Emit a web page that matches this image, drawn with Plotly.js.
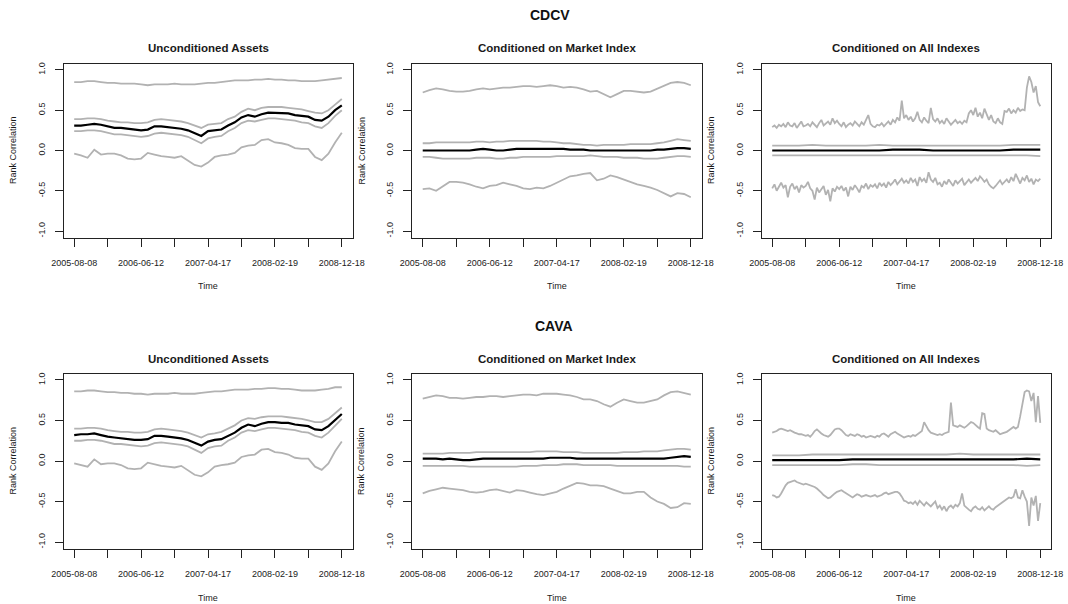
<!DOCTYPE html>
<html>
<head>
<meta charset="utf-8">
<script src="https://cdn.plot.ly/plotly-3.0.1.min.js"></script>
<style>
  html, body { margin: 0; padding: 0; background: #ffffff; }
  #chart { width: 1068px; height: 604px; }
</style>
</head>
<body>
<div id="chart"></div>
<script>
// Axis labels
const timeTickLabels = ['2005-08-08', '', '2006-06-12', '', '2007-04-17', '', '2008-02-19', '', '2008-12-18'];
const corrTickValues = [-1, -0.5, 0, 0.5, 1];
const corrTickLabels = ['-1.0', '-0.5', '0.0', '0.5', '1.0'];

const groupTitles = ['CDCV', 'CAVA'];
const panelTitles = ['Unconditioned Assets', 'Conditioned on Market Index', 'Conditioned on All Indexes'];

// CDCV - unconditioned assets
const cdcvUncMax  = [0.85,0.85,0.86,0.86,0.85,0.84,0.84,0.83,0.83,0.83,0.82,0.81,0.82,0.82,0.82,0.83,0.82,0.82,0.82,0.83,0.84,0.84,0.85,0.86,0.87,0.87,0.87,0.88,0.88,0.89,0.88,0.88,0.87,0.87,0.86,0.86,0.86,0.87,0.88,0.89,0.90];
const cdcvUncUp   = [0.39,0.39,0.40,0.40,0.39,0.37,0.36,0.35,0.35,0.34,0.34,0.35,0.38,0.39,0.38,0.37,0.36,0.34,0.31,0.28,0.32,0.33,0.34,0.39,0.42,0.48,0.52,0.50,0.53,0.54,0.54,0.54,0.53,0.52,0.51,0.49,0.47,0.46,0.50,0.57,0.64];
const cdcvUncMean = [0.31,0.31,0.32,0.33,0.32,0.30,0.28,0.28,0.27,0.26,0.25,0.26,0.30,0.30,0.29,0.28,0.27,0.25,0.21,0.18,0.24,0.25,0.26,0.31,0.35,0.41,0.44,0.42,0.45,0.47,0.465,0.46,0.46,0.44,0.43,0.42,0.38,0.37,0.42,0.50,0.56];
const cdcvUncLo   = [0.24,0.24,0.25,0.25,0.24,0.22,0.20,0.20,0.19,0.18,0.17,0.18,0.21,0.22,0.21,0.20,0.19,0.17,0.13,0.09,0.15,0.17,0.18,0.24,0.28,0.34,0.37,0.36,0.38,0.40,0.40,0.39,0.38,0.37,0.35,0.34,0.30,0.28,0.34,0.43,0.50];
const cdcvUncMin  = [-0.04,-0.06,-0.09,0.01,-0.05,-0.04,-0.04,-0.06,-0.10,-0.11,-0.10,-0.03,-0.05,-0.07,-0.08,-0.09,-0.07,-0.12,-0.18,-0.20,-0.15,-0.08,-0.06,-0.05,-0.03,0.04,0.06,0.07,0.13,0.14,0.10,0.09,0.07,0.03,0.02,0.02,-0.08,-0.12,-0.04,0.10,0.22];

// CDCV - conditioned on market index
const cdcvMktMax  = [0.72,0.75,0.77,0.76,0.74,0.73,0.73,0.74,0.76,0.77,0.76,0.77,0.78,0.78,0.79,0.80,0.80,0.79,0.80,0.81,0.80,0.78,0.79,0.78,0.76,0.73,0.74,0.70,0.66,0.70,0.74,0.74,0.73,0.72,0.73,0.77,0.80,0.84,0.85,0.84,0.81];
const cdcvMktUp   = [0.09,0.09,0.10,0.10,0.10,0.10,0.10,0.10,0.11,0.11,0.10,0.11,0.11,0.12,0.12,0.12,0.12,0.12,0.11,0.11,0.10,0.09,0.09,0.08,0.07,0.07,0.06,0.07,0.07,0.07,0.07,0.08,0.08,0.08,0.08,0.09,0.10,0.12,0.14,0.13,0.12];
const cdcvMktMean = [0.00,0.00,0.00,0.00,0.00,0.00,0.00,0.00,0.01,0.02,0.01,0.00,0.00,0.01,0.02,0.02,0.02,0.02,0.02,0.02,0.02,0.02,0.01,0.01,0.01,0.00,0.00,0.00,0.00,0.00,0.00,0.00,0.00,0.00,0.00,0.01,0.01,0.02,0.03,0.03,0.02];
const cdcvMktLo   = [-0.08,-0.08,-0.09,-0.10,-0.10,-0.10,-0.10,-0.10,-0.09,-0.09,-0.09,-0.10,-0.10,-0.09,-0.09,-0.08,-0.08,-0.08,-0.08,-0.08,-0.07,-0.07,-0.07,-0.07,-0.07,-0.06,-0.07,-0.08,-0.08,-0.08,-0.09,-0.09,-0.09,-0.10,-0.10,-0.10,-0.09,-0.08,-0.07,-0.07,-0.08];
const cdcvMktMin  = [-0.48,-0.47,-0.50,-0.45,-0.39,-0.39,-0.40,-0.42,-0.45,-0.47,-0.44,-0.43,-0.40,-0.42,-0.44,-0.47,-0.48,-0.46,-0.47,-0.44,-0.40,-0.36,-0.32,-0.31,-0.29,-0.28,-0.37,-0.35,-0.31,-0.33,-0.36,-0.39,-0.42,-0.44,-0.46,-0.49,-0.53,-0.57,-0.53,-0.54,-0.58];

// CDCV - conditioned on all indexes
const cdcvAllMax = [
  0.29,0.31,0.28,0.32,0.30,0.33,0.29,0.35,0.31,0.30,0.34,0.28,0.32,0.36,0.30,
  0.31,0.33,0.30,0.35,0.32,0.29,0.34,0.38,0.31,0.33,0.36,0.32,0.40,0.34,0.37,
  0.33,0.30,0.35,0.29,0.32,0.34,0.31,0.36,0.33,0.30,0.35,0.32,0.38,0.44,0.33,
  0.30,0.29,0.32,0.31,0.34,0.30,0.33,0.36,0.32,0.38,0.35,0.41,0.37,0.62,0.40,
  0.44,0.38,0.42,0.36,0.40,0.48,0.38,0.35,0.41,0.37,0.34,0.53,0.39,0.36,0.40,
  0.34,0.37,0.33,0.40,0.36,0.32,0.35,0.38,0.34,0.36,0.33,0.37,0.35,0.46,0.50,
  0.44,0.53,0.42,0.47,0.40,0.52,0.45,0.38,0.44,0.36,0.34,0.40,0.35,0.33,0.49,
  0.48,0.52,0.46,0.50,0.47,0.53,0.49,0.51,0.50,0.78,0.92,0.85,0.72,0.80,0.60,0.55];
const cdcvAllUp   = [0.06,0.06,0.06,0.07,0.06,0.06,0.06,0.06,0.07,0.06,0.06,0.06,0.06,0.06,0.06,0.06,0.06,0.06,0.07,0.07,0.07];
const cdcvAllMean = [0.00,0.00,0.00,0.00,0.00,0.00,0.00,0.00,0.00,0.01,0.01,0.01,0.00,0.00,0.00,0.00,0.00,0.00,0.01,0.01,0.01];
const cdcvAllLo   = [-0.06,-0.06,-0.06,-0.06,-0.06,-0.06,-0.06,-0.06,-0.06,-0.06,-0.06,-0.06,-0.06,-0.06,-0.06,-0.06,-0.06,-0.06,-0.06,-0.06,-0.07];
const cdcvAllMin = [
  -0.47,-0.42,-0.50,-0.44,-0.40,-0.46,-0.43,-0.58,-0.45,-0.41,-0.48,-0.44,-0.52,-0.43,-0.46,
  -0.44,-0.39,-0.47,-0.50,-0.61,-0.46,-0.52,-0.48,-0.44,-0.55,-0.49,-0.63,-0.47,-0.51,-0.45,
  -0.48,-0.44,-0.50,-0.46,-0.57,-0.45,-0.49,-0.43,-0.47,-0.52,-0.44,-0.46,-0.41,-0.48,-0.43,
  -0.45,-0.42,-0.47,-0.40,-0.44,-0.41,-0.46,-0.39,-0.43,-0.40,-0.36,-0.42,-0.38,-0.35,-0.40,
  -0.37,-0.41,-0.34,-0.39,-0.36,-0.44,-0.33,-0.38,-0.35,-0.40,-0.27,-0.36,-0.39,-0.34,-0.42,
  -0.40,-0.45,-0.38,-0.42,-0.36,-0.40,-0.44,-0.37,-0.41,-0.38,-0.35,-0.43,-0.39,-0.36,-0.40,
  -0.37,-0.34,-0.38,-0.32,-0.35,-0.39,-0.36,-0.42,-0.45,-0.47,-0.44,-0.40,-0.37,-0.42,-0.39,
  -0.36,-0.40,-0.33,-0.38,-0.29,-0.35,-0.41,-0.34,-0.37,-0.31,-0.39,-0.35,-0.42,-0.36,-0.38,-0.35];

// CAVA - unconditioned assets
const cavaUncMax  = [0.86,0.86,0.87,0.87,0.86,0.85,0.85,0.84,0.84,0.83,0.83,0.82,0.83,0.83,0.83,0.84,0.83,0.83,0.83,0.84,0.85,0.86,0.86,0.87,0.88,0.88,0.88,0.89,0.89,0.90,0.90,0.89,0.89,0.88,0.87,0.87,0.87,0.88,0.89,0.91,0.91];
const cavaUncUp   = [0.40,0.40,0.41,0.41,0.40,0.38,0.37,0.36,0.36,0.35,0.35,0.36,0.39,0.40,0.39,0.38,0.37,0.35,0.32,0.29,0.33,0.34,0.36,0.40,0.44,0.50,0.53,0.52,0.54,0.55,0.55,0.55,0.54,0.53,0.52,0.50,0.48,0.48,0.52,0.59,0.66];
const cavaUncMean = [0.32,0.33,0.33,0.34,0.32,0.30,0.29,0.28,0.27,0.26,0.26,0.27,0.31,0.31,0.30,0.29,0.28,0.26,0.22,0.19,0.24,0.26,0.27,0.31,0.35,0.41,0.45,0.43,0.46,0.48,0.48,0.47,0.47,0.45,0.44,0.43,0.39,0.38,0.43,0.51,0.58];
const cavaUncLo   = [0.25,0.25,0.26,0.26,0.25,0.23,0.21,0.21,0.20,0.19,0.18,0.19,0.22,0.23,0.22,0.21,0.20,0.18,0.14,0.10,0.16,0.18,0.19,0.25,0.29,0.35,0.38,0.37,0.39,0.41,0.41,0.40,0.39,0.38,0.36,0.35,0.31,0.29,0.35,0.44,0.52];
const cavaUncMin  = [-0.03,-0.05,-0.07,0.02,-0.04,-0.03,-0.03,-0.05,-0.09,-0.10,-0.09,-0.02,-0.04,-0.06,-0.07,-0.08,-0.06,-0.11,-0.17,-0.19,-0.14,-0.07,-0.05,-0.04,-0.02,0.05,0.07,0.08,0.14,0.15,0.11,0.10,0.08,0.04,0.03,0.03,-0.07,-0.11,-0.03,0.12,0.24];

// CAVA - conditioned on market index
const cavaMktMax  = [0.77,0.79,0.81,0.80,0.78,0.78,0.77,0.78,0.79,0.79,0.80,0.80,0.79,0.80,0.81,0.82,0.82,0.81,0.83,0.83,0.83,0.82,0.81,0.79,0.76,0.76,0.74,0.70,0.67,0.72,0.76,0.74,0.72,0.72,0.74,0.76,0.81,0.85,0.86,0.84,0.82];
const cavaMktUp   = [0.09,0.09,0.09,0.09,0.10,0.10,0.10,0.10,0.11,0.11,0.11,0.11,0.11,0.11,0.11,0.11,0.11,0.12,0.12,0.12,0.12,0.11,0.11,0.11,0.10,0.10,0.10,0.10,0.10,0.10,0.11,0.11,0.11,0.12,0.12,0.12,0.13,0.14,0.15,0.15,0.14];
const cavaMktMean = [0.03,0.03,0.03,0.02,0.03,0.02,0.01,0.01,0.02,0.03,0.03,0.03,0.03,0.03,0.03,0.03,0.03,0.03,0.03,0.04,0.04,0.04,0.04,0.03,0.03,0.03,0.03,0.03,0.03,0.03,0.03,0.03,0.03,0.03,0.03,0.03,0.03,0.04,0.05,0.06,0.05];
const cavaMktLo   = [-0.06,-0.06,-0.06,-0.06,-0.06,-0.06,-0.06,-0.07,-0.07,-0.07,-0.07,-0.07,-0.07,-0.07,-0.07,-0.06,-0.06,-0.06,-0.05,-0.05,-0.05,-0.04,-0.04,-0.04,-0.05,-0.05,-0.05,-0.05,-0.05,-0.06,-0.06,-0.06,-0.06,-0.06,-0.06,-0.06,-0.06,-0.06,-0.06,-0.07,-0.07];
const cavaMktMin  = [-0.40,-0.37,-0.35,-0.33,-0.34,-0.35,-0.36,-0.38,-0.39,-0.38,-0.36,-0.35,-0.37,-0.39,-0.36,-0.37,-0.39,-0.41,-0.42,-0.40,-0.38,-0.34,-0.30,-0.27,-0.28,-0.30,-0.30,-0.31,-0.34,-0.37,-0.40,-0.40,-0.38,-0.38,-0.45,-0.50,-0.53,-0.58,-0.57,-0.52,-0.53];

// CAVA - conditioned on all indexes
const cavaAllMax = [
  0.35,0.36,0.37,0.39,0.40,0.39,0.38,0.37,0.38,0.36,0.35,0.34,0.33,0.33,0.32,
  0.31,0.32,0.30,0.33,0.37,0.39,0.36,0.34,0.32,0.31,0.30,0.32,0.35,0.39,0.40,
  0.40,0.38,0.35,0.32,0.31,0.33,0.32,0.31,0.33,0.32,0.30,0.31,0.29,0.30,0.31,
  0.30,0.29,0.31,0.30,0.33,0.34,0.32,0.30,0.33,0.35,0.36,0.34,0.32,0.30,0.29,
  0.30,0.31,0.30,0.32,0.31,0.33,0.35,0.37,0.48,0.42,0.38,0.35,0.34,0.33,0.32,
  0.33,0.32,0.34,0.35,0.36,0.72,0.44,0.43,0.42,0.44,0.42,0.41,0.43,0.46,0.48,
  0.47,0.44,0.42,0.40,0.59,0.58,0.40,0.38,0.37,0.36,0.38,0.35,0.33,0.34,0.35,
  0.36,0.38,0.40,0.42,0.40,0.42,0.55,0.68,0.85,0.87,0.86,0.74,0.84,0.48,0.80,0.47];
const cavaAllUp   = [0.07,0.07,0.07,0.08,0.08,0.08,0.08,0.08,0.08,0.08,0.08,0.08,0.08,0.08,0.09,0.08,0.08,0.08,0.08,0.08,0.08];
const cavaAllMean = [0.01,0.01,0.01,0.01,0.01,0.01,0.02,0.02,0.02,0.02,0.02,0.02,0.02,0.02,0.02,0.02,0.02,0.02,0.02,0.03,0.02];
const cavaAllLo   = [-0.05,-0.05,-0.05,-0.05,-0.05,-0.05,-0.04,-0.04,-0.05,-0.05,-0.05,-0.05,-0.05,-0.05,-0.05,-0.05,-0.05,-0.05,-0.05,-0.06,-0.05];
const cavaAllMin = [
  -0.42,-0.43,-0.45,-0.44,-0.40,-0.35,-0.30,-0.27,-0.26,-0.25,-0.24,-0.26,-0.27,-0.28,-0.29,
  -0.28,-0.29,-0.30,-0.31,-0.32,-0.34,-0.36,-0.39,-0.42,-0.44,-0.46,-0.45,-0.42,-0.40,-0.38,
  -0.37,-0.36,-0.38,-0.40,-0.42,-0.44,-0.45,-0.43,-0.41,-0.42,-0.44,-0.43,-0.42,-0.43,-0.44,
  -0.43,-0.42,-0.44,-0.43,-0.42,-0.40,-0.39,-0.41,-0.40,-0.39,-0.38,-0.38,-0.40,-0.44,-0.49,
  -0.50,-0.52,-0.51,-0.53,-0.50,-0.54,-0.49,-0.52,-0.55,-0.51,-0.54,-0.56,-0.53,-0.50,-0.58,
  -0.55,-0.60,-0.56,-0.62,-0.57,-0.55,-0.58,-0.54,-0.56,-0.52,-0.40,-0.55,-0.58,-0.60,-0.62,
  -0.58,-0.56,-0.59,-0.60,-0.57,-0.61,-0.58,-0.56,-0.59,-0.60,-0.57,-0.55,-0.52,-0.50,-0.48,
  -0.47,-0.45,-0.46,-0.44,-0.35,-0.45,-0.46,-0.36,-0.44,-0.50,-0.80,-0.45,-0.55,-0.43,-0.74,-0.52];

// Panels in reading order: [max, upper band, lower band, min, mean]
const panels = [
  [cdcvUncMax, cdcvUncUp, cdcvUncLo, cdcvUncMin, cdcvUncMean],
  [cdcvMktMax, cdcvMktUp, cdcvMktLo, cdcvMktMin, cdcvMktMean],
  [cdcvAllMax, cdcvAllUp, cdcvAllLo, cdcvAllMin, cdcvAllMean],
  [cavaUncMax, cavaUncUp, cavaUncLo, cavaUncMin, cavaUncMean],
  [cavaMktMax, cavaMktUp, cavaMktLo, cavaMktMin, cavaMktMean],
  [cavaAllMax, cavaAllUp, cavaAllLo, cavaAllMin, cavaAllMean]
];

const W = 1068, H = 604;
const colPx = [[63.5, 352.5], [412, 701.5], [761.5, 1051]];
const rowPx = [[63.5, 237.5], [373.5, 548.5]];
const GREY = '#b2b2b2';
const FONT = 'Liberation Sans, Arial, sans-serif';

// x runs on a 0..100 observation scale; the 9 ticks split it evenly
const tickPos = timeTickLabels.map((_, i) => i * 100 / (timeTickLabels.length - 1));
const xOf = arr => arr.map((_, i) => i * 100 / (arr.length - 1));

const traces = [];
const layout = {
  width: W, height: H,
  margin: {l: 0, r: 0, t: 0, b: 0},
  paper_bgcolor: '#ffffff', plot_bgcolor: '#ffffff',
  showlegend: false,
  font: {family: FONT, color: '#1a1a1a', size: 9},
  annotations: []
};

panels.forEach((series, p) => {
  const row = Math.floor(p / 3), col = p % 3;
  const n = p + 1;
  const xa = 'x' + (n === 1 ? '' : n), ya = 'y' + (n === 1 ? '' : n);
  const xKey = 'xaxis' + (n === 1 ? '' : n), yKey = 'yaxis' + (n === 1 ? '' : n);

  series.forEach((vals, s) => {
    const isMean = s === 4;
    traces.push({
      type: 'scatter', mode: 'lines',
      x: xOf(vals), y: vals,
      xaxis: xa, yaxis: ya,
      line: {color: isMean ? '#000000' : GREY, width: isMean ? 2.2 : 1.8},
      hoverinfo: 'skip'
    });
  });

  const xd = [colPx[col][0] / W, colPx[col][1] / W];
  const yd = [1 - rowPx[row][1] / H, 1 - rowPx[row][0] / H];

  layout[xKey] = {
    domain: xd, anchor: ya, range: [-4, 104],
    showgrid: false, zeroline: false,
    showline: true, mirror: true, linecolor: '#222', linewidth: 1,
    ticks: 'outside', ticklen: 8, tickcolor: '#222', tickwidth: 1,
    tickmode: 'array', tickvals: tickPos, ticktext: timeTickLabels,
    ticklabelstandoff: 9,
    tickfont: {family: FONT, size: 9, color: '#1a1a1a'},
    fixedrange: true
  };
  layout[yKey] = {
    domain: yd, anchor: xa, range: [-1.08, 1.08],
    showgrid: false, zeroline: false,
    showline: true, mirror: true, linecolor: '#222', linewidth: 1,
    ticks: 'outside', ticklen: 8, tickcolor: '#222', tickwidth: 1,
    tickmode: 'array', tickvals: corrTickValues, ticktext: corrTickLabels,
    tickangle: -90, ticklabelstandoff: 6,
    tickfont: {family: FONT, size: 9, color: '#1a1a1a'},
    fixedrange: true
  };

  const cx = (xd[0] + xd[1]) / 2;
  // panel title
  layout.annotations.push({
    xref: 'paper', yref: 'paper', x: cx, y: 1 - (row === 0 ? 48 : 359) / H,
    xanchor: 'center', yanchor: 'middle', showarrow: false,
    text: '<b>' + panelTitles[col] + '</b>',
    font: {family: FONT, size: 11.5, color: '#1a1a1a'}
  });
  // x axis title
  layout.annotations.push({
    xref: 'paper', yref: 'paper', x: cx, y: 1 - (row === 0 ? 286 : 598) / H,
    xanchor: 'center', yanchor: 'middle', showarrow: false,
    text: 'Time', font: {family: FONT, size: 9, color: '#1a1a1a'}
  });
  // y axis title
  layout.annotations.push({
    xref: 'paper', yref: 'paper', x: (colPx[col][0] - 51) / W,
    y: 1 - ((rowPx[row][0] + rowPx[row][1]) / 2) / H,
    xanchor: 'center', yanchor: 'middle', showarrow: false, textangle: -90,
    text: 'Rank Correlation', font: {family: FONT, size: 9, color: '#1a1a1a'}
  });
});

// group headings
[[550, 15], [554, 326]].forEach(([px, py], i) => {
  layout.annotations.push({
    xref: 'paper', yref: 'paper', x: px / W, y: 1 - py / H,
    xanchor: 'center', yanchor: 'middle', showarrow: false,
    text: '<b>' + groupTitles[i] + '</b>',
    font: {family: FONT, size: 14, color: '#111'}
  });
});

Plotly.newPlot('chart', traces, layout, {staticPlot: true, displayModeBar: false});
</script>
</body>
</html>
